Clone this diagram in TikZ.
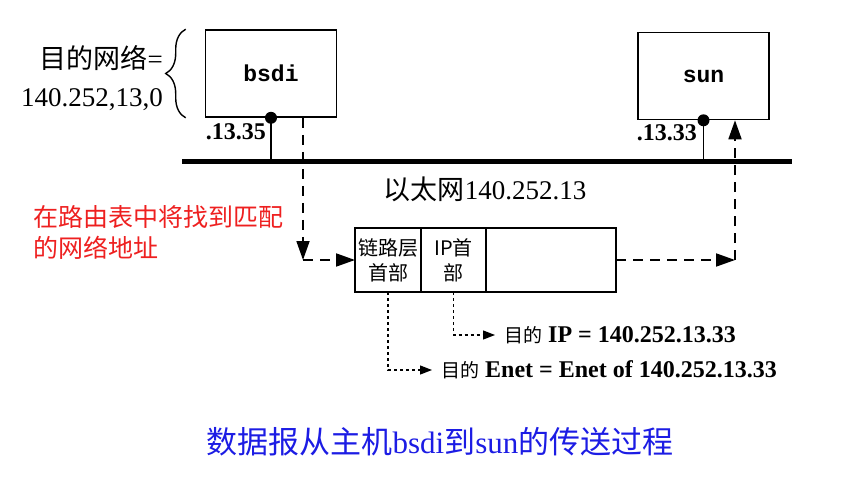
\documentclass[tikz,border=0pt]{standalone}
\usepackage{fontspec}
\setmainfont{Liberation Serif}
\newfontfamily\cjk{Noto Sans CJK SC}
\newfontfamily\monofont{Liberation Mono}
\usetikzlibrary{positioning,arrows.meta,decorations.pathreplacing}
\definecolor{notered}{RGB}{238,32,32}
\definecolor{titleblue}{RGB}{28,28,228}
\tikzset{
  host/.style={draw,line width=1.6pt,minimum width=131pt,minimum height=87pt,font=\fontsize{23}{28}\selectfont\monofont\bfseries},
  cell/.style={draw,line width=1.6pt,minimum height=64pt,inner sep=0pt,outer sep=0pt,align=center,font=\fontsize{20}{25}\selectfont\cjk},
  flow/.style={line width=1.8pt,dash pattern=on 10pt off 7pt,-{Triangle[length=19pt,width=13pt]}},
  ptr/.style={line width=1.2pt,dash pattern=on 3pt off 3pt,-{Triangle[length=12pt,width=9pt]}},
  addr/.style={inner sep=0pt,font=\fontsize{24}{28}\selectfont\bfseries},
  dst/.style={anchor=west,inner xsep=9pt,font=\fontsize{24}{28}\selectfont\bfseries},
}
\begin{document}
\begin{tikzpicture}[x=1pt,y=-1pt]
\useasboundingbox (0,0) rectangle (867,487);
\node[host] (bsdi) at (271,73.5) {bsdi};
\node[host] (sun) at (703.5,76) {sun};
\coordinate (busL) at (182,161);
\coordinate (busR) at (792,161);
\draw[line width=5pt] (busL) -- (busR);
\draw[line width=1.6pt] (bsdi.south) -- (bsdi.south |- busL);
\draw[line width=1.6pt] (sun.south) -- (sun.south |- busL);
\fill (bsdi.south) circle (6pt);
\fill (sun.south) circle (6pt);
\node[addr,anchor=east] (bsdiaddr) at (266,132) {.13.35};
\node[addr,anchor=east] (sunaddr) at (697,133) {.13.33};
\node[font=\fontsize{27}{32}\selectfont] (net) at (485,189) {{\cjk 以太网}140.252.13};
\draw[line width=1.4pt,decorate,decoration={brace,amplitude=20pt}] ([xshift=-19pt]bsdi.south west) -- ([xshift=-19pt]bsdi.north west);
\node[font=\fontsize{27}{32}\selectfont,anchor=east,inner sep=0pt] (dstnet) at (163,58) {{\cjk 目的网络}=};
\node[font=\fontsize{27}{32}\selectfont,anchor=east,inner sep=0pt] (netnum) at (163,100) {140.252,13,0};
\node[anchor=west,align=left,text=notered,font=\fontsize{25}{31}\selectfont\cjk] (note) at (30,232) {在路由表中将找到匹配\\的网络地址};
\node[cell,minimum width=66pt] (link) at (388,260) {链路层\\首部};
\node[cell,minimum width=65pt,right=0pt of link] (iphdr) {IP首\\部};
\node[cell,minimum width=130pt,right=0pt of iphdr] (data) {};
\coordinate (turnL) at (303,260);
\coordinate (turnR) at (735,260);
\draw[flow] (bsdi.south -| turnL) -- (turnL);
\draw[flow] (turnL) -- (link.west);
\draw[flow] (data.east) -- (turnR);
\draw[flow] (turnR) -- (turnR |- sun.south);
\node[dst] (ipdst) at (495,335) {{\fontsize{19}{24}\selectfont\cjk\mdseries 目的} IP = 140.252.13.33};
\node[dst] (enetdst) at (432,370) {{\fontsize{19}{24}\selectfont\cjk\mdseries 目的} Enet = Enet of 140.252.13.33};
\draw[ptr] (iphdr.south) |- (ipdst.west);
\draw[ptr] (link.south) |- (enetdst.west);
\node[text=titleblue,font=\fontsize{31}{36}\selectfont] (title) at (440,442) {{\cjk 数据报从主机}bsdi{\cjk 到}sun{\cjk 的传送过程}};
\end{tikzpicture}
\end{document}
